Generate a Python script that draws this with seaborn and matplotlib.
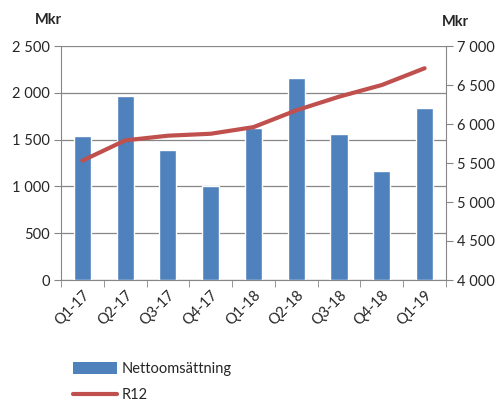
import numpy as np
import pandas as pd
import matplotlib
matplotlib.use("Agg")
import matplotlib.pyplot as plt
import seaborn as sns
from matplotlib.patches import Patch
from matplotlib.lines import Line2D
from matplotlib.ticker import FuncFormatter, FixedLocator

categories = ["Q1-17", "Q2-17", "Q3-17", "Q4-17", "Q1-18", "Q2-18", "Q3-18", "Q4-18", "Q1-19"]
netto = [1538, 1963, 1390, 1004, 1620, 2161, 1559, 1161, 1834]
r12 = [5530, 5790, 5850, 5875, 5960, 6175, 6350, 6500, 6715]

sns.set_style("white")
plt.rcParams['font.family'] = ['Lato', 'DejaVu Sans']

df = pd.DataFrame({"Kvartal": categories, "Nettoomsättning": netto, "R12": r12})

fig = plt.figure(figsize=(5.02, 4.01), dpi=100)
ax = fig.add_axes([61/502, 1-280/401, (446-61)/502, (280-46)/401])

bar_color = "#4F81BD"
line_color = "#C0504D"
grid_color = "#868686"

sns.barplot(data=df, x="Kvartal", y="Nettoomsättning", color=bar_color, width=0.4,
            saturation=1, ax=ax, zorder=3)
ax.set_xlim(-0.5, len(categories) - 0.5)
ax.set_ylim(0, 2500)
ax.set_yticks(np.arange(0, 2501, 500))
fmt = FuncFormatter(lambda v, p: f"{int(v):,}".replace(",", " "))
ax.yaxis.set_major_formatter(fmt)
ax.yaxis.grid(True, color=grid_color, linewidth=0.9, zorder=0)
ax.set_axisbelow(True)
ax.set_xlabel("")
ax.set_ylabel("")

ax2 = ax.twinx()
xs = np.arange(len(categories))
sns.lineplot(x=xs, y=r12, color=line_color, linewidth=3, ax=ax2, zorder=4)
ax2.set_ylim(4000, 7000)
ax2.set_yticks(np.arange(4000, 7001, 500))
ax2.yaxis.set_major_formatter(fmt)
ax2.set_xlim(-0.5, len(categories) - 0.5)
ax2.set_ylabel("")

for a in (ax, ax2):
    for s in a.spines.values():
        s.set_visible(False)
ax.spines["left"].set_visible(True)
ax.spines["left"].set_color(grid_color)
ax.spines["bottom"].set_visible(True)
ax.spines["bottom"].set_color(grid_color)
ax2.spines["right"].set_visible(True)
ax2.spines["right"].set_color(grid_color)

ax.set_xticks(xs)
ax.set_xticklabels(categories, rotation=45, ha="right", rotation_mode="anchor", fontsize=10.5)
ax.tick_params(axis="x", which="major", length=0, pad=6)
ax.xaxis.set_minor_locator(FixedLocator(np.arange(-0.5, len(categories), 1.0)))
ax.tick_params(axis="x", which="minor", length=5, color=grid_color, direction="out", bottom=True)
ax.tick_params(axis="y", length=5, color=grid_color, direction="out", left=True, labelsize=10.5, pad=3)
ax2.tick_params(axis="y", length=5, color=grid_color, direction="out", right=True, labelsize=10.5, pad=3)

fig.text(48/502, 1-20/401, "Mkr", fontsize=10.5, fontweight="bold", ha="center", va="center")
fig.text(455/502, 1-22/401, "Mkr", fontsize=10.5, fontweight="bold", ha="center", va="center")

handles = [Patch(facecolor=bar_color, edgecolor="none"),
           Line2D([0], [0], color=line_color, linewidth=3)]
fig.legend(handles, ["Nettoomsättning", "R12"], loc="upper left",
           bbox_to_anchor=(66/502, 1-355/401), frameon=False, fontsize=10.5,
           handlelength=3.0, handleheight=0.9, labelspacing=0.8, handletextpad=0.3,
           borderpad=0)

fig.savefig("out.png", dpi=100)
